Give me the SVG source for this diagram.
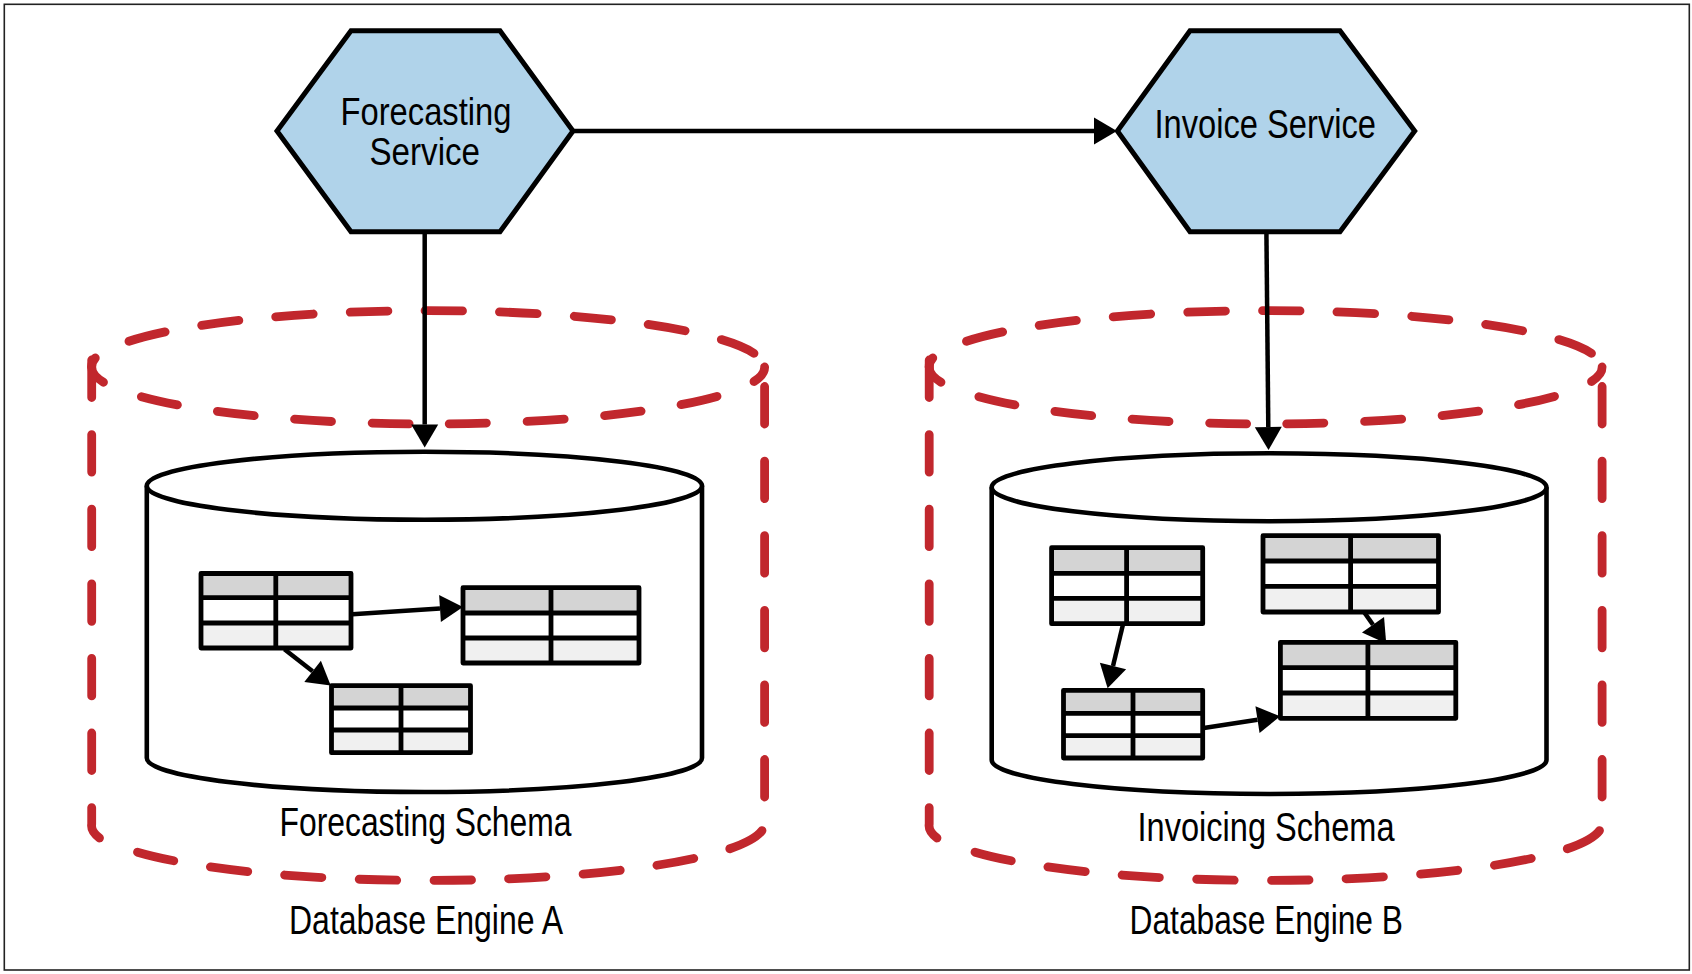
<svg xmlns="http://www.w3.org/2000/svg" xmlns:xlink="http://www.w3.org/1999/xlink" width="1692" height="974" viewBox="0 0 1692 974">
<style>
text{font-family:"Liberation Sans","Noto Sans",sans-serif;font-size:40.5px;fill:#000}
.tight{font-size:39px}
.hex{fill:#b0d3ea;stroke:#000;stroke-width:5;stroke-linejoin:miter}
.eng{fill:none;stroke:#c1272d;stroke-width:8.8;stroke-linecap:round;stroke-dasharray:37.5 37.1}
.low{stroke-dasharray:37 40.5}
.solid{stroke-dasharray:none}
.db{fill:#fff;stroke:#000;stroke-width:4.6;stroke-linejoin:round}
.grid{fill:none;stroke:#000;stroke-width:4.8;stroke-linejoin:round}
.c{fill:none;stroke:#000;stroke-width:4.5}
.r1{fill:#d4d4d4}.r2{fill:#fff}.r3{fill:#f0f0f0}
</style>
<defs>
<marker id="ah" markerUnits="userSpaceOnUse" markerWidth="26" markerHeight="30" refX="1" refY="14" orient="auto"><path d="M1 .5 L24 14 L1 27.5 Z" fill="#000"/></marker>
<g id="engine">
<path class="eng" d="M129 341.3 A336.5 56.7 0 0 1 754 353.3"/>
<path class="eng solid" d="M91.7 367 A336.5 56.7 0 0 1 95.3 358"/>
<path class="eng solid" d="M764.6 367 A336.5 56.7 0 0 1 754 381.5"/>
<path class="eng low" d="M717 396.4 A336.5 56.7 0 0 1 132 394"/>
<path class="eng solid" d="M103.5 382.3 A336.5 56.7 0 0 1 91.7 367"/>
<path class="eng" d="M91.7 360 V824 A336.5 57 0 0 0 99.5 838"/>
<path class="eng" d="M137.5 852.2 A336.5 57 0 0 0 764.6 824"/>
<path class="eng" d="M764.6 797 V386"/>
</g>
</defs>
<rect id="frame" x="4.3" y="4.3" width="1685" height="965.7" fill="#fff" stroke="#222" stroke-width="1.6"/>
<g id="engine-a"><use xlink:href="#engine" href="#engine"/><text x="289" y="933.7" textLength="274" lengthAdjust="spacingAndGlyphs">Database Engine A</text></g>
<g id="engine-b"><use xlink:href="#engine" href="#engine" transform="translate(837.5 0)"/><text x="1129.5" y="933.7" textLength="273.5" lengthAdjust="spacingAndGlyphs">Database Engine B</text></g>
<g id="schema-a">
<path class="db" d="M146.8 485.7 V758 A277.6 34 0 0 0 702 758 V485.7"/>
<ellipse class="db" cx="424.4" cy="485.7" rx="277.6" ry="34"/>
<text x="279.5" y="836.3" textLength="292" lengthAdjust="spacingAndGlyphs">Forecasting Schema</text>
</g>
<g id="schema-b">
<path class="db" d="M991.7 487.3 V760 A277.4 34 0 0 0 1546.5 760 V487.3"/>
<ellipse class="db" cx="1269.1" cy="487.3" rx="277.4" ry="34"/>
<text x="1137.5" y="841.3" textLength="257" lengthAdjust="spacingAndGlyphs">Invoicing Schema</text>
</g>
<g id="table-a1"><rect class="r1" x="201" y="573.5" width="150" height="24.2"/><rect class="r2" x="201" y="597.7" width="150" height="25.3"/><rect class="r3" x="201" y="623" width="150" height="25"/><path class="grid" d="M201 573.5H351V648H201ZM201 597.7H351M201 623H351M275.8 573.5V648"/></g>
<g id="table-a2"><rect class="r1" x="463" y="587.7" width="176" height="25.3"/><rect class="r2" x="463" y="613" width="176" height="25"/><rect class="r3" x="463" y="638" width="176" height="25"/><path class="grid" d="M463 587.7H639V663H463ZM463 613H639M463 638H639M551 587.7V663"/></g>
<g id="table-a3"><rect class="r1" x="331.5" y="685.7" width="139" height="22.3"/><rect class="r2" x="331.5" y="708" width="139" height="22"/><rect class="r3" x="331.5" y="730" width="139" height="22.7"/><path class="grid" d="M331.5 685.7H470.5V752.7H331.5ZM331.5 708H470.5M331.5 730H470.5M401 685.7V752.7"/></g>
<g id="table-b1"><rect class="r1" x="1051.6" y="547.7" width="151" height="25.6"/><rect class="r2" x="1051.6" y="573.3" width="151" height="25"/><rect class="r3" x="1051.6" y="598.3" width="151" height="25.4"/><path class="grid" d="M1051.6 547.7H1202.7V623.7H1051.6ZM1051.6 573.3H1202.7M1051.6 598.3H1202.7M1126.6 547.7V623.7"/></g>
<g id="table-b2"><rect class="r1" x="1263" y="535.7" width="175.5" height="25.3"/><rect class="r2" x="1263" y="561" width="175.5" height="25.3"/><rect class="r3" x="1263" y="586.3" width="175.5" height="25.7"/><path class="grid" d="M1263 535.7H1438.5V612H1263ZM1263 561H1438.5M1263 586.3H1438.5M1350.6 535.7V612"/></g>
<g id="table-b3"><rect class="r1" x="1280.4" y="642.3" width="175.4" height="25.4"/><rect class="r2" x="1280.4" y="667.7" width="175.4" height="25.3"/><rect class="r3" x="1280.4" y="693" width="175.4" height="25.3"/><path class="grid" d="M1280.4 642.3H1455.8V718.3H1280.4ZM1280.4 667.7H1455.8M1280.4 693H1455.8M1367.9 642.3V718.3"/></g>
<g id="table-b4"><rect class="r1" x="1063.5" y="690.3" width="139.2" height="23"/><rect class="r2" x="1063.5" y="713.3" width="139.2" height="22.4"/><rect class="r3" x="1063.5" y="735.7" width="139.2" height="22.3"/><path class="grid" d="M1063.5 690.3H1202.7V758H1063.5ZM1063.5 713.3H1202.7M1063.5 735.7H1202.7M1133 690.3V758"/></g>
<g id="forecasting-service"><polygon class="hex" points="351,30.7 500,30.7 573,131 500,231.7 351,231.7 277,131"/><text class="tight" x="340.5" y="125" textLength="171" lengthAdjust="spacingAndGlyphs">Forecasting</text><text class="tight" x="369.5" y="165" textLength="110.5" lengthAdjust="spacingAndGlyphs">Service</text></g>
<g id="invoice-service"><polygon class="hex" points="1190,30.7 1340,30.7 1414.7,131 1340,231.7 1190,231.7 1117.4,131"/><text x="1154.5" y="138.3" textLength="221.5" lengthAdjust="spacingAndGlyphs">Invoice Service</text></g>
<g id="connectors">
<line class="c" x1="573" y1="131" x2="1094" y2="131" marker-end="url(#ah)"/>
<line class="c" x1="424.7" y1="232" x2="424.7" y2="424.5" marker-end="url(#ah)"/>
<line class="c" x1="1266.4" y1="232" x2="1268.3" y2="427" marker-end="url(#ah)"/>
<line class="c" x1="352.4" y1="614.3" x2="440" y2="608.5" marker-end="url(#ah)"/>
<line class="c" x1="284.4" y1="649.3" x2="312.6" y2="671.3" marker-end="url(#ah)"/>
<line class="c" x1="1122.8" y1="625.3" x2="1113" y2="666" marker-end="url(#ah)"/>
<line class="c" x1="1364" y1="612" x2="1373" y2="624.8" marker-end="url(#ah)"/>
<line class="c" x1="1203.8" y1="728" x2="1257.5" y2="719.7" marker-end="url(#ah)"/>
</g>
</svg>
